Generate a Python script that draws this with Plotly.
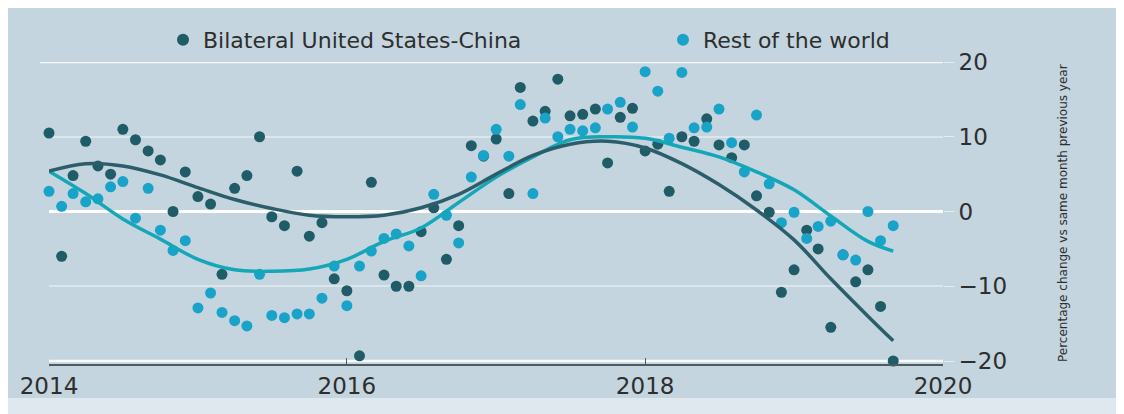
import pandas as pd
import plotly.graph_objects as go

# Monthly observations, Jan 2014 - Sep 2019 (percentage change vs same month previous year)
months = pd.date_range("2014-01-01", periods=69, freq="MS")

bilateral = [
    10.5, -6.0, 4.8, 9.4, 6.1, 5.0, 11.0, 9.6, 8.1, 6.9, 0.0, 5.3,
    2.0, 1.0, -8.4, 3.1, 4.8, 10.0, -0.7, -1.9, 5.4, -3.3, -1.5, -9.0,
    -10.6, -19.3, 3.9, -8.5, -10.0, -10.0, -2.7, 0.5, -6.4, -1.9, 8.8, 7.4,
    9.7, 2.4, 16.6, 12.1, 13.4, 17.7, 12.8, 13.0, 13.7, 6.5, 12.6, 13.8,
    8.1, 9.0, 2.7, 10.0, 9.4, 12.4, 8.9, 7.2, 8.9, 2.1, -0.1, -10.8,
    -7.8, -2.5, -5.0, -15.5, -5.8, -9.4, -7.8, -12.7, -20.0,
]

rest_of_world = [
    2.7, 0.7, 2.4, 1.3, 1.7, 3.3, 4.0, -0.9, 3.1, -2.5, -5.2, -3.9,
    -12.9, -10.9, -13.5, -14.6, -15.3, -8.4, -13.9, -14.2, -13.7, -13.7, -11.6, -7.3,
    -12.6, -7.3, -5.3, -3.6, -3.0, -4.6, -8.6, 2.3, -0.5, -4.2, 4.6, 7.5,
    11.0, 7.4, 14.3, 2.4, 12.5, 10.0, 11.0, 10.8, 11.2, 13.7, 14.6, 11.3,
    18.7, 16.1, 9.8, 18.6, 11.2, 11.3, 13.7, 9.2, 5.3, 12.9, 3.7, -1.5,
    -0.1, -3.6, -2.0, -1.3, -5.8, -6.5, 0.0, -3.9, -1.9,
]

# Smoothed trend lines
trend_dates = [
    "2014-01-01", "2014-04-01", "2014-07-01", "2014-10-01",
    "2015-01-01", "2015-04-01", "2015-07-01", "2015-10-01",
    "2016-01-01", "2016-04-01", "2016-07-01", "2016-10-01",
    "2017-01-01", "2017-04-01", "2017-07-01", "2017-10-01",
    "2018-01-01", "2018-04-01", "2018-07-01", "2018-10-01",
    "2019-01-01", "2019-04-01", "2019-07-01", "2019-09-01",
]
bilateral_trend = [
    5.4, 6.4, 6.1, 4.9, 3.2, 1.6, 0.4, -0.5, -0.7, -0.5, 0.5, 2.3,
    5.0, 7.5, 9.0, 9.4, 8.5, 6.4, 3.6, 0.2, -3.8, -9.0, -14.0, -17.3,
]
rest_trend = [
    5.4, 2.4, -1.0, -3.7, -6.4, -7.8, -8.0, -7.7, -6.4, -4.0, -2.2, 1.2,
    4.6, 7.3, 9.6, 10.0, 9.8, 8.6, 7.3, 5.3, 2.9, -0.6, -4.0, -5.3,
]

x_ticks = ["2014-01-01", "2016-01-01", "2018-01-01", "2020-01-01"]
x_tick_text = ["2014", "2016", "2018", "2020"]
y_ticks = [-20, -10, 0, 10, 20]

DARK = "#1f5c68"
CYAN = "#1aa3c9"
DARK_LINE = "#2b5d6a"
CYAN_LINE = "#14a7b8"
BG = "#c4d5df"
TEXT = "#2e2e2e"
FONT = "DejaVu Sans"

fig = go.Figure()
fig.add_trace(go.Scatter(
    x=months, y=bilateral, mode="markers", name="Bilateral United States-China",
    marker=dict(color=DARK, size=11), cliponaxis=False, legend="legend",
))
fig.add_trace(go.Scatter(
    x=months, y=rest_of_world, mode="markers", name="Rest of the world",
    marker=dict(color=CYAN, size=11), cliponaxis=False, legend="legend2",
))
fig.add_trace(go.Scatter(
    x=trend_dates, y=rest_trend, mode="lines", showlegend=False,
    line=dict(color=CYAN_LINE, width=3.5, shape="spline"),
))
fig.add_trace(go.Scatter(
    x=trend_dates, y=bilateral_trend, mode="lines", showlegend=False,
    line=dict(color=DARK_LINE, width=3.5, shape="spline"),
))

# figure is drawn 8px in from the page edge (body margin)
W, H = 1116, 406
ML, MT = 41, 54
PW, PH = 894, 302

leg_common = dict(
    orientation="h", xanchor="left", yanchor="middle",
    y=(MT + PH - 32) / PH,
    font=dict(size=22, color=TEXT), bgcolor="rgba(0,0,0,0)",
    itemsizing="constant",
)

fig.update_layout(
    width=W, height=H,
    margin=dict(l=ML, r=W - ML - PW, t=MT, b=H - MT - PH, autoexpand=False),
    paper_bgcolor=BG, plot_bgcolor=BG,
    font=dict(family=FONT, color=TEXT),
    showlegend=True,
    legend=dict(x=(155 - ML) / PW, **leg_common),
    legend2=dict(x=(655 - ML) / PW, **leg_common),
    xaxis=dict(
        type="date", range=["2014-01-01", "2020-01-01"],
        tickvals=x_ticks, ticktext=x_tick_text,
        showgrid=False, zeroline=False,
        showline=True, linecolor="#4d5a60", linewidth=2,
        ticks="inside", ticklen=6, tickcolor="#4d5a60",
        tickfont=dict(size=23, color=TEXT),
    ),
    yaxis=dict(
        side="right", range=[-20.4, 20], tickvals=y_ticks,
        showgrid=True, gridcolor="rgba(255,255,255,0.4)", gridwidth=2,
        zeroline=True, zerolinecolor="#ffffff", zerolinewidth=2.5,
        showline=False, ticks="outside", ticklen=10,
        tickcolor="rgba(255,255,255,0.6)",
        tickfont=dict(size=23, color=TEXT),
    ),
    shapes=[
        dict(type="line", xref="paper", yref="y", x0=-0.01, x1=1, y0=20, y1=20,
             line=dict(color="#f4f8fa", width=2.5), layer="below"),
        dict(type="line", xref="paper", yref="y", x0=0, x1=1, y0=-20, y1=-20,
             line=dict(color="#f4f8fa", width=2.5), layer="below"),
        dict(type="rect", xref="paper", yref="paper",
             x0=-0.1, x1=1.3, y0=(MT + PH - H) / PH, y1=(MT + PH - 390) / PH,
             fillcolor="#dfe8ee", line=dict(width=0), layer="below"),
    ],
    annotations=[
        dict(text="Percentage change vs same month previous year",
             xref="paper", yref="paper", x=(1055 - ML) / PW, y=0.5,
             textangle=-90, showarrow=False, xanchor="center", yanchor="middle",
             font=dict(size=12, color=TEXT, family=FONT)),
    ],
)

fig.write_html("out.html")
